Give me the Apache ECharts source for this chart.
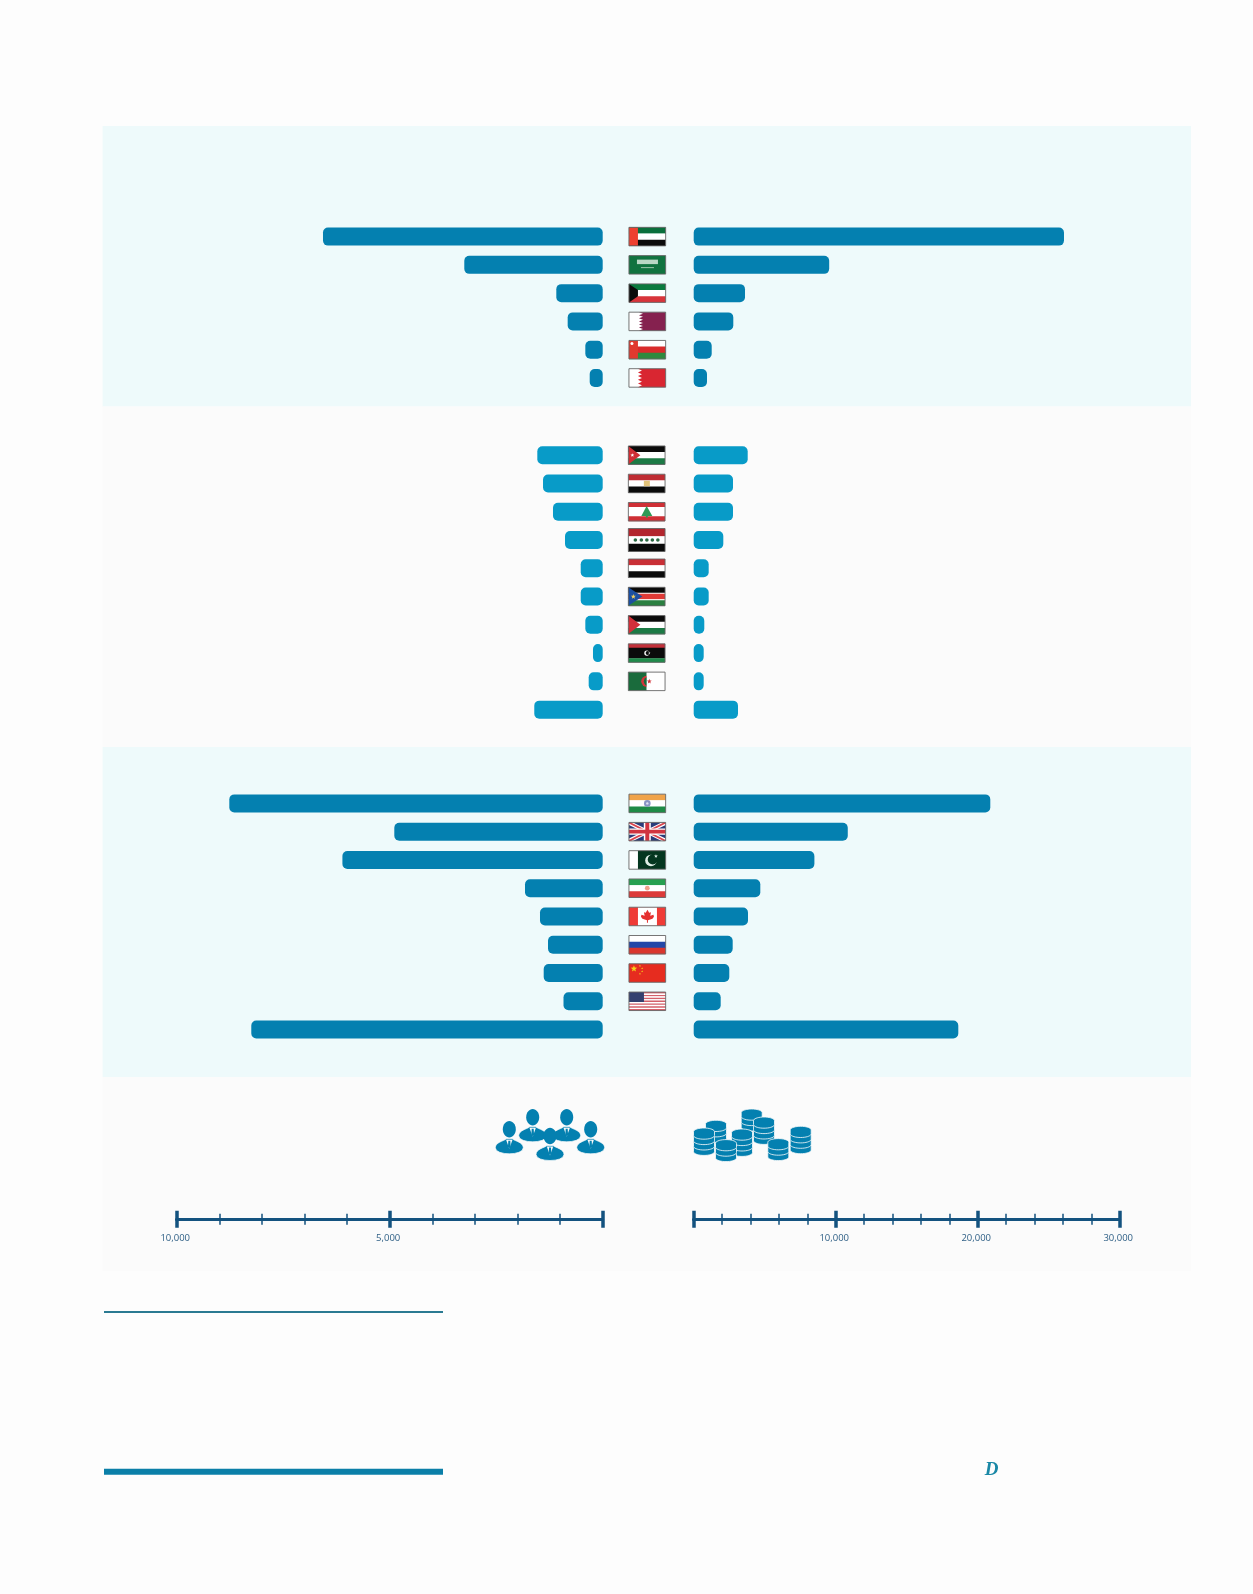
<!DOCTYPE html>
<html>
<head>
<meta charset="utf-8">
<style>html,body{margin:0;padding:0;background:#fdfdfd}#c{width:1253px;height:1594px}</style>
<script src="https://cdn.jsdelivr.net/npm/echarts@6/dist/echarts.min.js"></script>
</head>
<body>
<div id="c"></div>
<script>
// ---------- data ----------
const gccCountries = ['UAE','Saudi Arabia','Kuwait','Qatar','Oman','Bahrain'];
const gccPeople    = [6566,3249,1089,822,408,305];
const gccMoney     = [26077,9542,3613,2789,1268,937];

const arabCountries = ['Jordan','Egypt','Lebanon','Iraq','Yemen','South Sudan','Palestine','Libya','Algeria','Other'];
const arabPeople    = [1535,1401,1167,885,516,516,408,228,329,1606];
const arabMoney     = [3803,2768,2768,2085,1056,1056,746,704,704,3120];

const worldCountries = ['India','United Kingdom','Pakistan','Iran','Canada','Russia','China','United States','Other'];
const worldPeople    = [8765,4892,6110,1824,1472,1284,1385,920,8249];
const worldMoney     = [20887,10850,8500,4690,3824,2746,2507,1901,18634];

const peopleAxisMax = 10000, peopleAxisStep = 5000;
const moneyAxisMax = 30000, moneyAxisStep = 10000;

// ---------- layout / style ----------
const DARK = '#0480b0', LIGHT = '#089bc8', AXIS = '#13527f', LABEL = '#2e5f85';
const BG = '#fdfdfd', BAND = '#eefafb', BAND2 = '#fbfbfb';
const ROW = 28.27;
const sections = [
  {cats: gccCountries,   left: gccPeople,   right: gccMoney,   first: 236.6, color: DARK,  flagX: 647.3},
  {cats: arabCountries,  left: arabPeople,  right: arabMoney,  first: 455.2, color: LIGHT, flagX: 646.7},
  {cats: worldCountries, left: worldPeople, right: worldMoney, first: 803.4, color: DARK,  flagX: 647.3}
];
const LX = 176.7, RX = 693.7, AW = 426;

// ---------- flag drawing helpers ----------
const R = (x,y,w,h,c) => ({type:'rect',shape:{x,y,width:w,height:h},style:{fill:c}});
const P = (pts,c) => ({type:'polygon',shape:{points:pts},style:{fill:c}});
const C = (x,y,r,c) => ({type:'circle',shape:{cx:x,cy:y,r},style:{fill:c}});
const ST = (cols,w,h,wts) => {
  const tot = wts ? wts.reduce((a,b)=>a+b,0) : cols.length; let y = 0;
  return cols.map((c,i)=>{const t=(wts?wts[i]:1)/tot*h;const r=R(0,y,w,t+0.2,c);y+=t;return r;});
};
const star = (cx,cy,r,c,n=5) => {
  const pts=[];for(let i=0;i<n*2;i++){const a=-Math.PI/2+i*Math.PI/n,q=i%2?r*0.42:r;pts.push([cx+q*Math.cos(a),cy+q*Math.sin(a)]);}
  return P(pts,c);
};
const serr = (x,w,h,n,c) => {
  const pts=[[w,0],[x,0]];for(let i=0;i<n;i++){pts.push([x+4,h*(i+0.5)/n],[x,h*(i+1)/n]);}pts.push([w,h]);
  return P(pts,c);
};
const WH='#ffffff',BK='#0b0b0b',RD='#d92b2b';
const flags = {
  'UAE':(w,h)=>[...ST(['#0a6f3c',WH,BK],w,h),R(0,0,9,h,'#ee4030')],
  'Saudi Arabia':(w,h)=>[R(0,0,w,h,'#10733f'),R(8,4,21,4.5,'#b9d8c4'),R(12,11.5,13,1,'#9cc6ab')],
  'Kuwait':(w,h)=>[...ST(['#0a7a3e',WH,'#d8343a'],w,h),P([[0,0],[9,h/3],[9,h*2/3],[0,h]],BK)],
  'Qatar':(w,h)=>[R(0,0,w,h,WH),serr(10,w,h,6,'#85214f')],
  'Oman':(w,h)=>[...ST([WH,RD,'#2f8a3e'],w,h),R(0,0,9,h,'#e0392e'),C(3,3,1.5,WH)],
  'Bahrain':(w,h)=>[R(0,0,w,h,WH),serr(9,w,h,5,'#d92631')],
  'Jordan':(w,h)=>[...ST([BK,WH,'#1c7a45'],w,h),P([[0,0],[12,h/2],[0,h]],'#cf2f35'),star(4,h/2,2,WH)],
  'Egypt':(w,h)=>[...ST(['#bf2c32',WH,BK],w,h),R(15.5,6.5,6,5.5,'#e3c37a')],
  'Lebanon':(w,h)=>[...ST(['#cf2f35',WH,'#cf2f35'],w,h,[1,2,1]),P([[18.3,3.5],[24,13.5],[13,13.5]],'#2f9a55'),R(17.5,13,2,2,'#2f9a55')],
  'Iraq':(w,h)=>[...ST(['#b3262e',WH,BK],w,h),...[7,13,18.5,24,29.5].map(x=>C(x,h/2,1.8,'#2d6b45'))],
  'Yemen':(w,h)=>ST(['#c92f36',WH,BK],w,h),
  'South Sudan':(w,h)=>[...ST([BK,WH,'#e03a36',WH,'#2a7f40'],w,h,[5,1,5,1,5]),P([[0,0],[14,h/2],[0,h]],'#1c4fa0'),star(5,h/2,2.6,'#f0d060')],
  'Palestine':(w,h)=>[...ST([BK,WH,'#1c7a45'],w,h),P([[0,0],[12,h/2],[0,h]],'#d1303a')],
  'Libya':(w,h)=>[...ST(['#c3303a',BK,'#1f8a4a'],w,h,[1,2.6,1]),C(18.5,h/2,2.6,WH),C(19.3,h/2,2,BK),star(21,h/2,1.2,WH)],
  'Algeria':(w,h)=>[R(0,0,w/2,h,'#1a6b3c'),C(w/2,h/2,5.5,'#d3343a'),C(w/2+1.5,h/2,4.4,'#1a6b3c'),R(w/2,0,w/2,h,WH),star(w/2+2.6,h/2,2.5,'#d3343a')],
  'India':(w,h)=>[...ST(['#f0a349',WH,'#1f8b46'],w,h),C(w/2,h/2,3.3,'#8a94c4'),C(w/2,h/2,1.2,'#dfe2f0')],
  'United Kingdom':(w,h)=>[R(0,0,w,h,'#2a3c7a'),
    P([[0,0],[4,0],[w,h-2.5],[w,h],[w-4,h],[0,2.5]],WH),P([[w,0],[w-4,0],[0,h-2.5],[0,h],[4,h],[w,2.5]],WH),
    P([[0,0],[2,0],[w,h-1],[w,h],[w-2,h],[0,1]],'#d8444e'),P([[w,0],[w-2,0],[0,h-1],[0,h],[2,h],[w,1]],'#d8444e'),
    R(w/2-3.5,0,7,h,WH),R(0,h/2-3.2,w,6.4,WH),R(w/2-2,0,4,h,'#d03440'),R(0,h/2-1.8,w,3.6,'#d03440')],
  'Pakistan':(w,h)=>[R(0,0,w,h,WH),R(9,0,w-9,h,'#04361f'),C(22,h/2+0.5,5.8,'#dfeee6'),C(23.8,h/2-0.5,5,'#04361f'),star(27,5.5,2,'#dfeee6')],
  'Iran':(w,h)=>[...ST(['#27a050',WH,'#dc3a38'],w,h),C(w/2,h/2,2.4,'#f0a08a')],
  'Canada':(w,h)=>[R(0,0,w,h,'#ef3b36'),R(9,0,19,h,WH),
    P([[18.5,2.5],[20.2,5.5],[22,5],[21.3,8.5],[24.5,7.5],[25,9.5],[23.5,11.5],[19,13],[19,15.5],[18,15.5],[18,13],[13.5,11.5],[12,9.5],[12.5,7.5],[15.7,8.5],[15,5],[16.8,5.5]],'#e5302f')],
  'Russia':(w,h)=>ST([WH,'#2347a8','#d9362e'],w,h),
  'China':(w,h)=>[R(0,0,w,h,'#e62c1f'),star(5,5,3.4,'#f4d41c'),...[[11,2.2],[13.2,4.6],[13.2,7.6],[11,10]].map(p=>star(p[0],p[1],1.1,'#f4d41c'))],
  'United States':(w,h)=>[...ST(Array.from({length:13},(_,i)=>i%2?WH:'#d4606a'),w,h),R(0,0,15,h*7/13,'#33406f')]
};

// ---------- static decoration ----------
const g = [];
[[126,406.5,BAND],[406.5,747,BAND2],[747,1077,BAND],[1077,1271,BAND2]].forEach(b=>g.push(
  {type:'rect',shape:{x:102.6,y:b[0],width:1088.4,height:b[1]-b[0]},style:{fill:b[2]}}));
g.push({type:'rect',shape:{x:104,y:1311,width:339,height:2},style:{fill:'#2a7a92'}});
g.push({type:'rect',shape:{x:104,y:1468.7,width:339,height:6},style:{fill:'#0b7fa8'}});
g.push({type:'text',style:{x:991.5,y:1470,text:'D',fill:'#1a88a6',font:'italic bold 19px "Liberation Serif"',align:'center',verticalAlign:'middle'}});

sections.forEach(s=>{
  s.cats.forEach((name,i)=>{
    const make = flags[name]; if(!make) return;
    const w = 36.7, h = name==='Iraq' ? 23 : 18.5;
    g.push({type:'group',x:s.flagX-w/2,y:s.first+i*ROW-h/2,children:[...make(w,h),
      {type:'rect',shape:{x:0,y:0,width:w,height:h},style:{fill:'none',stroke:'#666',lineWidth:0.9}}]});
  });
});

// icon outlines sampled into polygons
function bez(p0,p1,p2,p3,n=8){
  const o=[];for(let i=1;i<=n;i++){const t=i/n,u=1-t;
    o.push([u*u*u*p0[0]+3*u*u*t*p1[0]+3*u*t*t*p2[0]+t*t*t*p3[0],u*u*u*p0[1]+3*u*u*t*p1[1]+3*u*t*t*p2[1]+t*t*t*p3[1]]);}
  return o;
}
function person(x,y){
  const a=[-14,18.5],b=[-3,9.5],c=[3,9.5],d=[14,18.5];
  const pts=[a,...bez(a,[-14,13],[-6,12],b),c,...bez(c,[6,12],[14,13],d),...bez(d,[14,26.5],[-14,26.5],a)];
  const st={fill:DARK,stroke:BAND2,lineWidth:0.7};
  g.push({type:'group',x,y,children:[
    {type:'polygon',shape:{points:pts},style:st},
    {type:'ellipse',shape:{cx:0,cy:0,rx:6.5,ry:8.2},style:{fill:DARK}},
    P([[-3.2,10.5],[3.2,10.5],[0,19.5]],BAND2),
    P([[-1,11.5],[1,11.5],[1.3,17],[0,19.5],[-1.3,17]],DARK)
  ]});
}
[[532.7,1117.3],[566.7,1117.3],[509.3,1129.3],[590.7,1129.3],[550,1136]].forEach(p=>person(p[0],p[1]));

function coins(x,y,n){
  const r=10.5,ry=3.7,t=3.8,step=5.4,kids=[];
  for(let i=n-1;i>=0;i--){
    const c=i*step,pts=[];
    for(let k=0;k<=18;k++){const a=Math.PI+k/18*Math.PI;pts.push([r*Math.cos(a),c+ry*Math.sin(a)]);}
    for(let k=0;k<=18;k++){const a=k/18*Math.PI;pts.push([r*Math.cos(a),c+t+ry*Math.sin(a)]);}
    kids.push({type:'polygon',shape:{points:pts},style:{fill:DARK,stroke:BAND2,lineWidth:0.8}});
  }
  g.push({type:'group',x,y,children:kids});
}
[[751.7,1112.7,3],[716,1124,3],[742,1132.7,4],[764,1120.7,4],[704,1131.7,4],[726,1143.3,3],[778.3,1142.3,3],[800.7,1130,4]]
  .forEach(c=>coins(c[0],c[1],c[2]));

// ---------- charts ----------
const grid=[],xAxis=[],yAxis=[],series=[];
function side(cats,vals,color,left,inverse,max,top){
  const k=grid.length;
  grid.push({left,width:AW,top,height:cats.length*ROW,containLabel:false});
  xAxis.push({gridIndex:k,type:'value',min:0,max,inverse,show:false});
  yAxis.push({gridIndex:k,type:'category',data:cats,inverse:true,show:false});
  series.push({type:'bar',xAxisIndex:k,yAxisIndex:k,data:vals,barWidth:18,silent:true,
    itemStyle:{color,borderRadius:5}});
}
sections.forEach(s=>{
  const top=s.first-ROW/2;
  side(s.cats,s.left,s.color,LX,true,peopleAxisMax,top);
  side(s.cats,s.right,s.color,RX,false,moneyAxisMax,top);
});
function scale(left,inverse,max,step){
  const k=grid.length;
  grid.push({left,width:AW,top:1219.3,height:0,containLabel:false});
  const base={gridIndex:k,type:'value',min:0,max,interval:step,inverse,splitLine:{show:false},minorSplitLine:{show:false},
    axisLine:{show:true,lineStyle:{color:AXIS,width:3},onZero:false},
    axisTick:{show:true,length:8.5,lineStyle:{color:AXIS,width:3.5}},
    minorTick:{show:true,splitNumber:5,length:5.5,lineStyle:{color:AXIS,width:1.5}}};
  xAxis.push({...base,position:'bottom',
    axisLabel:{show:true,margin:13.5,padding:[0,3,0,0],color:LABEL,fontFamily:'"Open Sans"',fontSize:9.5,hideOverlap:false,showMinLabel:true,showMaxLabel:true,
      formatter:v=>v===0?'':v.toLocaleString('en-US')}});
  xAxis.push({...base,position:'top',axisLabel:{show:false}});
  yAxis.push({gridIndex:k,type:'value',show:false,min:0,max:1});
  series.push({type:'bar',xAxisIndex:xAxis.length-2,yAxisIndex:yAxis.length-1,data:[],silent:true});
  yAxis.push({gridIndex:k,type:'value',show:false,min:0,max:1});
  series.push({type:'bar',xAxisIndex:xAxis.length-1,yAxisIndex:yAxis.length-1,data:[],silent:true});
}
scale(LX,true,peopleAxisMax,peopleAxisStep);
scale(RX,false,moneyAxisMax,moneyAxisStep);

const chart=echarts.init(document.getElementById('c'),null,{renderer:'canvas',width:1253,height:1594});
chart.setOption({animation:false,backgroundColor:BG,tooltip:{show:false},legend:{show:false},
  grid,xAxis,yAxis,series,graphic:{elements:g}});
</script>
</body>
</html>
